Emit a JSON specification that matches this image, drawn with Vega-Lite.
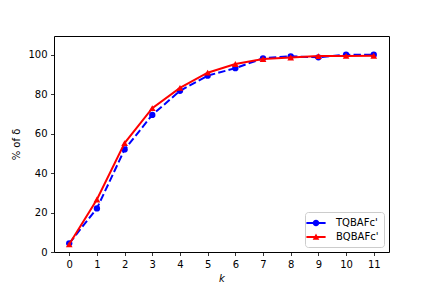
{
  "$schema": "https://vega.github.io/schema/vega-lite/v6.json",
  "autosize": {"type": "none"},
  "width": 335,
  "height": 216,
  "padding": {"left": 54, "top": 36, "right": 43, "bottom": 36},
  "background": "white",
  "config": {
    "font": "DejaVu Sans",
    "view": {"stroke": "#000000", "strokeWidth": 1},
    "axis": {
      "grid": false,
      "domain": false,
      "tickColor": "#000000",
      "tickSize": 3.5,
      "tickWidth": 0.8,
      "labelPadding": 3.5,
      "labelFontSize": 10,
      "labelColor": "#000000",
      "labelFont": "DejaVu Sans",
      "titleFont": "DejaVu Sans",
      "titleFontSize": 10,
      "titleFontWeight": "normal",
      "titleColor": "#000000"
    },
    "legend": {
      "title": null,
      "orient": "bottom-right",
      "offset": 5,
      "padding": 5,
      "fillColor": "rgba(255,255,255,0.8)",
      "strokeColor": "#cccccc",
      "cornerRadius": 3,
      "symbolSize": 144,
      "symbolStrokeWidth": 0,
      "symbolOpacity": 1,
      "labelOffset": 14,
      "labelFontSize": 10,
      "labelFont": "DejaVu Sans",
      "labelColor": "#000000",
      "rowPadding": 3
    }
  },
  "data": {
    "values": [
      {"k": 0, "v": 4.4, "s": "TQBAFc'"},
      {"k": 1, "v": 22.1, "s": "TQBAFc'"},
      {"k": 2, "v": 52.0, "s": "TQBAFc'"},
      {"k": 3, "v": 69.5, "s": "TQBAFc'"},
      {"k": 4, "v": 81.7, "s": "TQBAFc'"},
      {"k": 5, "v": 89.4, "s": "TQBAFc'"},
      {"k": 6, "v": 93.2, "s": "TQBAFc'"},
      {"k": 7, "v": 98.2, "s": "TQBAFc'"},
      {"k": 8, "v": 99.2, "s": "TQBAFc'"},
      {"k": 9, "v": 98.7, "s": "TQBAFc'"},
      {"k": 10, "v": 100.0, "s": "TQBAFc'"},
      {"k": 11, "v": 100.0, "s": "TQBAFc'"},
      {"k": 0, "v": 3.9, "s": "BQBAFc'"},
      {"k": 1, "v": 26.6, "s": "BQBAFc'"},
      {"k": 2, "v": 55.2, "s": "BQBAFc'"},
      {"k": 3, "v": 72.9, "s": "BQBAFc'"},
      {"k": 4, "v": 83.2, "s": "BQBAFc'"},
      {"k": 5, "v": 90.9, "s": "BQBAFc'"},
      {"k": 6, "v": 95.3, "s": "BQBAFc'"},
      {"k": 7, "v": 97.8, "s": "BQBAFc'"},
      {"k": 8, "v": 98.6, "s": "BQBAFc'"},
      {"k": 9, "v": 99.3, "s": "BQBAFc'"},
      {"k": 10, "v": 99.4, "s": "BQBAFc'"},
      {"k": 11, "v": 99.5, "s": "BQBAFc'"}
    ]
  },
  "encoding": {
    "x": {
      "field": "k", "type": "quantitative",
      "scale": {"domain": [-0.55, 11.55], "nice": false, "zero": false},
      "axis": {"values": [0,1,2,3,4,5,6,7,8,9,10,11], "title": "k", "titleFontStyle": "italic", "titlePadding": 4, "format": "d"}
    },
    "y": {
      "field": "v", "type": "quantitative",
      "scale": {"domain": [0, 109.5], "nice": false},
      "axis": {"values": [0,20,40,60,80,100], "title": "% of δ", "titlePadding": 6}
    }
  },
  "layer": [
    {
      "transform": [{"filter": "datum.s === \"TQBAFc'\""}],
      "mark": {"type": "line", "strokeWidth": 2, "strokeDash": [7.4, 3.2], "color": "#0000ff"}
    },
    {
      "transform": [{"filter": "datum.s === \"TQBAFc'\""}],
      "mark": {"type": "point", "shape": "circle", "filled": true, "opacity": 1, "size": 40, "color": "#0000ff"}
    },
    {
      "transform": [{"filter": "datum.s === \"BQBAFc'\""}],
      "mark": {"type": "line", "strokeWidth": 2, "color": "#ff0000"}
    },
    {
      "transform": [{"filter": "datum.s === \"BQBAFc'\""}],
      "mark": {"type": "point", "shape": "triangle-up", "filled": true, "opacity": 1, "size": 45, "color": "#ff0000"}
    },
    {
      "mark": {"type": "point", "filled": true, "size": 0, "strokeWidth": 0},
      "encoding": {
        "fill": {
          "field": "s", "type": "nominal",
          "scale": {"domain": ["TQBAFc'", "BQBAFc'"], "range": ["#0000ff", "#ff0000"]},
          "legend": {"title": null}
        },
        "shape": {
          "field": "s", "type": "nominal",
          "scale": {
            "domain": ["TQBAFc'", "BQBAFc'"],
            "range": [
              "M-1.6,-0.17H-0.5V0.17H-1.6Z M0.5,-0.17H1.6V0.17H0.5Z M0.55,0A0.55,0.55 0 1,1 -0.55,0A0.55,0.55 0 1,1 0.55,0Z",
              "M-1.6,-0.17H1.6V0.17H-1.6Z M0,-0.6L0.55,0.45L-0.55,0.45Z"
            ]
          },
          "legend": {"title": null}
        }
      }
    }
  ]
}
